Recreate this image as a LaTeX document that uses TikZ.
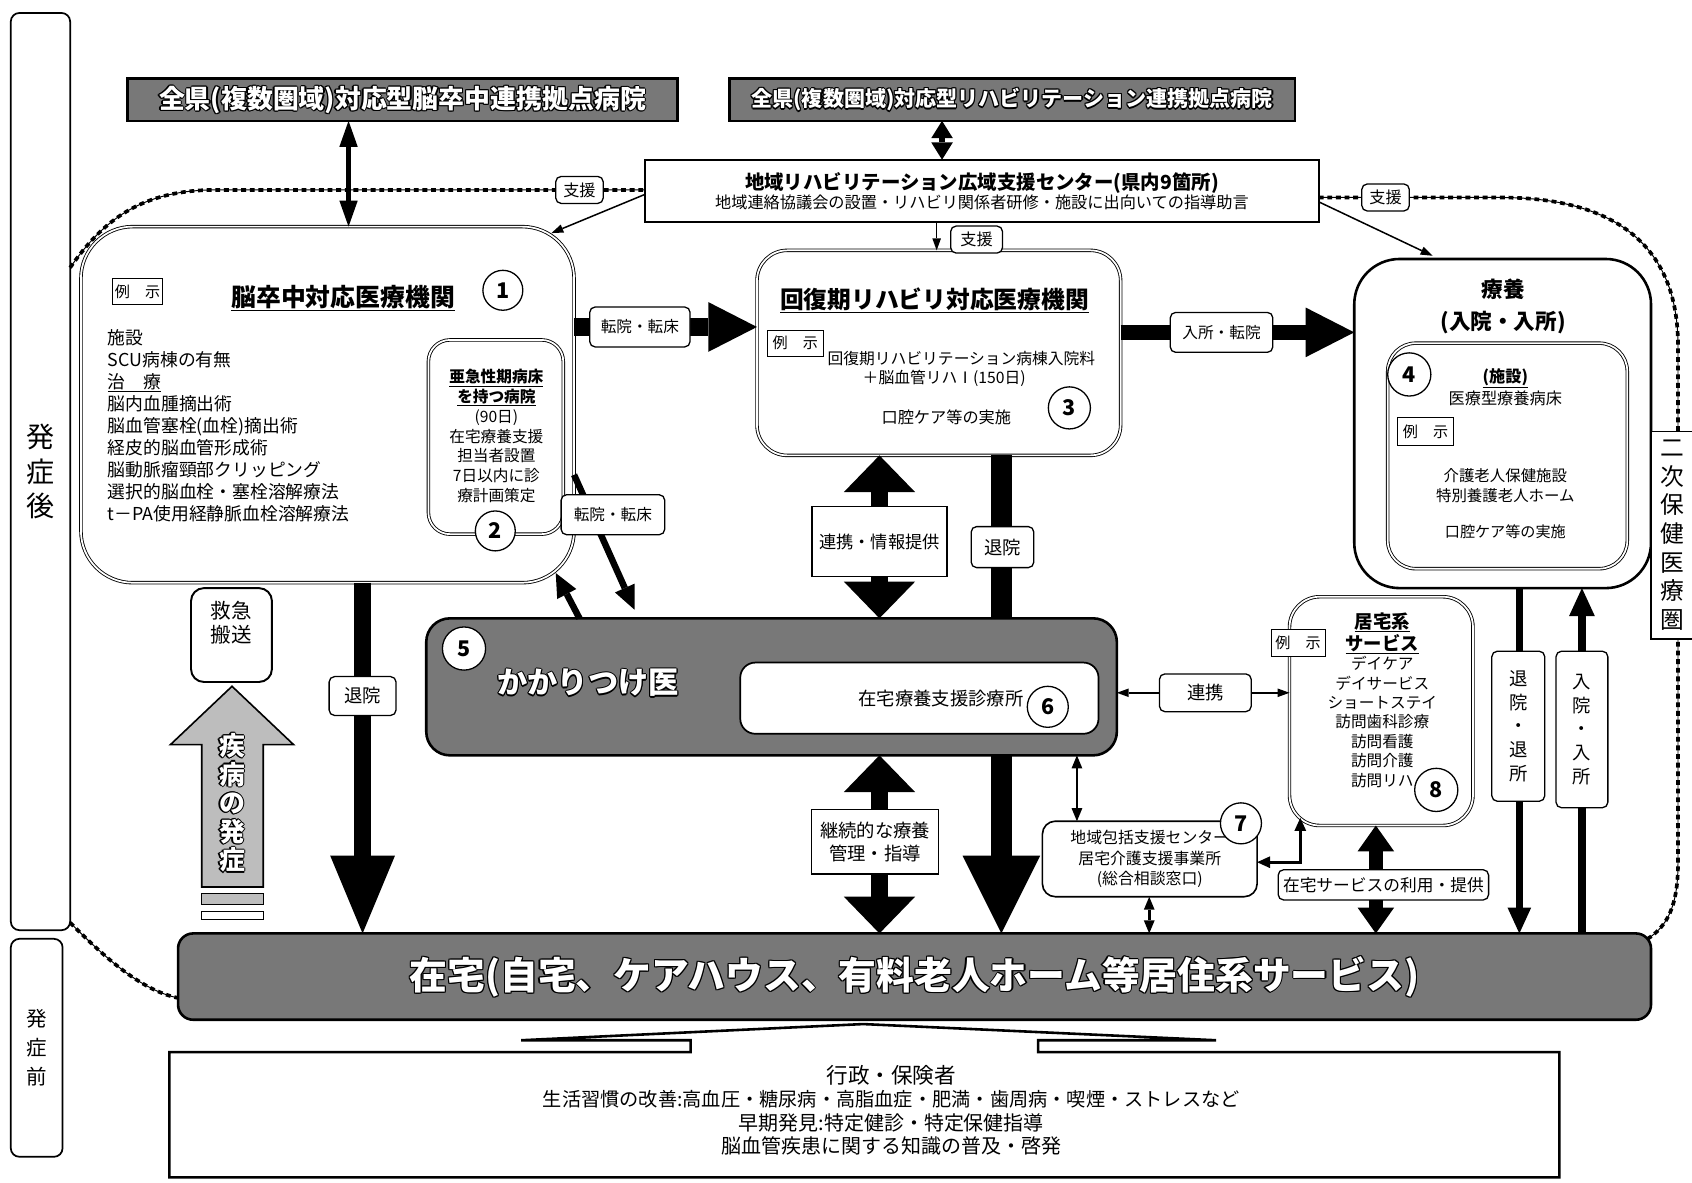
\documentclass[tikz,border=0pt]{standalone}
\usepackage{fontspec}
\setmainfont{Noto Sans CJK JP}
\usetikzlibrary{arrows.meta,calc}
\definecolor{grain}{gray}{0.47}
\definecolor{grainl}{gray}{0.74}
\newcommand\fsz[2]{\fontsize{#1}{#2}\selectfont}
\newcommand\outl[1]{{\setbox0\hbox{#1}%
\rlap{\kern1.1pt\copy0}\rlap{\kern-1.1pt\copy0}%
\rlap{\raise1.1pt\copy0}\rlap{\lower1.1pt\copy0}%
\rlap{\kern.8pt\raise.8pt\copy0}\rlap{\kern-.8pt\raise.8pt\copy0}%
\rlap{\kern.8pt\lower.8pt\copy0}\rlap{\kern-.8pt\lower.8pt\copy0}%
{\color{white}\box0}}}
\begin{document}
\begin{tikzpicture}[x=1pt,y=-1pt,
 every node/.style={inner sep=0pt, outer sep=0pt},
 dbl/.style={draw, double, double distance=1.6pt, line width=0.8pt, fill=white},
 sbox/.style={draw, line width=1.6pt, fill=white},
 gbox/.style={draw, line width=2.4pt, fill=grain},
 lbl/.style={draw, fill=white, line width=1.2pt, rounded corners=5pt, font=\fsz{15}{18}},
 rlbl/.style={draw, fill=white, line width=1.2pt, align=center},
 num/.style={circle, draw, fill=white, line width=1.2pt, minimum size=37pt, font=\bfseries\fsz{20}{20}},
 reiji/.style={draw, fill=white, line width=1.1pt, minimum width=46pt, minimum height=24pt, font=\fsz{14}{14}},
 vtxt/.style={align=center},
 bound/.style={line width=0.9pt, postaction={draw, line width=3.4pt, dash pattern=on 4.5pt off 3.5pt}}
]
\fill[white] (0,0) rectangle (1568,1096);
\useasboundingbox (0,0) rectangle (1568,1096);

% dashed boundary of the area
\draw[bound] (65,248) .. controls (95,205) and (130,176) .. (200,176) -- (598,176);
\draw[bound] (1222,183) -- (1390,183) .. controls (1500,183) and (1555,230) .. (1555,320) -- (1555,800) .. controls (1555,840) and (1545,858) .. (1527,870);
\draw[bound] (65,855) .. controls (95,885) and (130,918) .. (166,925);

% left phase boxes
\node[draw, line width=1.6pt, rounded corners=8pt, minimum width=55pt, minimum height=850pt, vtxt, font=\fsz{26}{32}] (hgo) at (37.5,437) {発\\症\\後};
\node[draw, line width=1.6pt, rounded corners=8pt, minimum width=48pt, minimum height=202pt, vtxt, font=\fsz{19}{27}] (hmae) at (34,971) {発\\症\\前};

% main boxes
\node[dbl, rounded corners=48pt, minimum width=457pt, minimum height=330pt] (boxA) at (303.5,375) {};
\node[dbl, rounded corners=20pt, minimum width=125pt, minimum height=180pt] (boxA2) at (459.5,405) {};
\node[dbl, rounded corners=28pt, minimum width=337pt, minimum height=190pt] (boxB) at (870,327) {};
\node[draw, line width=2.4pt, fill=white, rounded corners=42pt, minimum width=275pt, minimum height=305pt] (boxC) at (1392.5,392.5) {};
\node[dbl, rounded corners=26pt, minimum width=222pt, minimum height=209pt] (boxC4) at (1397,422.5) {};
\node[draw, line width=1.8pt, fill=white, minimum width=624pt, minimum height=58pt, align=center] (ctr) at (910,177) {{\bfseries\fsz{18}{23}地域リハビリテーション広域支援センター(県内9箇所)}\\{\fsz{15}{20}地域連絡協議会の設置・リハビリ関係者研修・施設に出向いての指導助言}};
\node[gbox, minimum width=510pt, minimum height=39pt, font=\bfseries\fsz{24}{26}] (topL) at (373,92.5) {\outl{全県(複数圏域)対応型脳卒中連携拠点病院}};
\node[gbox, minimum width=524pt, minimum height=39pt, font=\bfseries\fsz{19.5}{22}] (topR) at (938,92.5) {\outl{全県(複数圏域)対応型リハビリテーション連携拠点病院}};
\node[draw, line width=1.4pt, fill=white, minimum width=40pt, minimum height=192pt, vtxt, font=\fsz{22}{26.5}] (niji) at (1550,496) {二\\次\\保\\健\\医\\療\\圏};
\node[dbl, rounded corners=28pt, minimum width=170pt, minimum height=212pt] (kyotaku) at (1280,659) {};
\node[draw, line width=1.5pt, fill=white, rounded corners=12pt, minimum width=199pt, minimum height=70pt, align=center, font=\fsz{14.7}{19}] (houkatsu) at (1065.5,796) {地域包括支援センター\\居宅介護支援事業所\\(総合相談窓口)};
\node[draw, line width=1.8pt, fill=white, rounded corners=12pt, minimum width=75pt, minimum height=87pt] (kyukyu) at (214.5,588.5) {};
\node[align=center, font=\fsz{19}{23}] (kyukyut) at (214.5,577) {救急\\搬送};
\node[gbox, rounded corners=14pt, minimum width=1365pt, minimum height=80pt, font=\bfseries\fsz{35}{38}] (bar) at (847.5,905) {\outl{在宅(自宅、ケアハウス、有料老人ホーム等居住系サービス)}};

% onset arrow
\draw[line width=1.5pt, fill=grainl, line join=miter] (215,636) -- (272,690) -- (244,690) -- (244,822) -- (187,822) -- (187,690) -- (158,690) -- cycle;
\node[align=center, font=\bfseries\fsz{24}{26.5}] (sick) at (215,744) {\outl{疾}\\\outl{病}\\\outl{の}\\\outl{発}\\\outl{症}};
\draw[line width=1.2pt, fill=grainl] (187,828) rectangle (244,838);
\draw[line width=1.2pt] (187,845) rectangle (244,852);

% bottom box with upward arrow
\draw[line width=2.4pt, line join=miter] (157,975) -- (640,975) -- (640,964) -- (483,964) -- (800,949) -- (1127,964) -- (962,964) -- (962,975) -- (1445,975) -- (1445,1091) -- (157,1091) -- cycle;
\node[align=center, font=\fsz{18}{21.7}] (gyosei) at (826,1029) {{\fontsize{20}{21.7}\selectfont 行政・保険者}\\{\fontsize{17.8}{21.7}\selectfont 生活習慣の改善:高血圧・糖尿病・高脂血症・肥満・歯周病・喫煙・ストレスなど}\\{\fontsize{18.5}{21.7}\selectfont 早期発見:特定健診・特定保健指導}\\{\fontsize{18.5}{21.7}\selectfont 脳血管疾患に関する知識の普及・啓発}};

% discharge arrow behind kakaritsuke box
\draw[line width=20pt, -{Triangle[length=72pt,width=72pt,line width=0pt]}] (boxB.south -| 928,0) -- (bar.north -| 928,0);

% kakaritsuke
\node[gbox, rounded corners=22pt, minimum width=640pt, minimum height=127pt] (kakari) at (715,636.5) {};
\node[font=\bfseries\fsz{28}{30}] (kakarit) at (545,633) {\outl{かかりつけ医}};
\node[sbox, rounded corners=14pt, minimum width=332pt, minimum height=66pt] (shinryo) at (852,647) {};
\node[font=\fsz{17}{20}] (shinryot) at (872,647) {在宅療養支援診療所};

% connectors
\draw[line width=4pt, {Triangle[length=24pt,width=17pt,line width=0pt]}-{Triangle[length=24pt,width=17pt,line width=0pt]}] (topL.south -| 323,0) -- (boxA.north -| 323,0);
\draw[line width=5pt, {Triangle[length=16pt,width=20pt,line width=0pt]}-{Triangle[length=16pt,width=20pt,line width=0pt]}] (topR.south -| 873,0) -- (ctr.north -| 873,0);
\draw[line width=1.4pt, -{Triangle[length=11pt,width=8pt,line width=0pt]}] (ctr.west |- 0,180) -- ($(boxA.north east)+(-21,6)$);
\draw[line width=1.4pt, -{Triangle[length=11pt,width=8pt,line width=0pt]}] (ctr.east |- 0,187) -- ($(boxC.north)+(-65,-3)$);
\draw[line width=1.4pt, -{Triangle[length=11pt,width=8pt,line width=0pt]}] (ctr.south -| 868,0) -- (boxB.north -| 868,0);

\draw[line width=16pt, -{Triangle[length=45pt,width=46pt,line width=0pt]}] (boxA.east |- 0,303) -- (boxB.west |- 0,303);
\draw[line width=14pt, -{Triangle[length=45pt,width=46pt,line width=0pt]}] (boxB.east |- 0,308) -- (boxC.west |- 0,308);
\draw[line width=6pt, -{Triangle[length=22pt,width=20pt,line width=0pt]}] (boxA.east |- 0,440) -- ($(kakari.north west)+(193,-8)$);
\draw[line width=6pt, -{Triangle[length=22pt,width=20pt,line width=0pt]}] ($(kakari.north west)+(142,0)$) -- ($(boxA.south east)+(-17,-9)$);

\draw[line width=16pt, {Triangle[length=34pt,width=66pt,line width=0pt]}-{Triangle[length=34pt,width=66pt,line width=0pt]}] (boxB.south -| 815,0) -- (kakari.north -| 815,0);
\draw[line width=16pt, {Triangle[length=34pt,width=66pt,line width=0pt]}-{Triangle[length=34pt,width=66pt,line width=0pt]}] (kakari.south -| 815,0) -- (bar.north -| 815,0);
\draw[line width=16pt, -{Triangle[length=72pt,width=60pt,line width=0pt]}] (boxA.south -| 336,0) -- (bar.north -| 336,0);
\draw[line width=13pt, {Triangle[length=24pt,width=34pt,line width=0pt]}-{Triangle[length=24pt,width=34pt,line width=0pt]}] (kyotaku.south -| 1275,0) -- (bar.north -| 1275,0);
\draw[line width=7pt, -{Triangle[length=24pt,width=22pt,line width=0pt]}] (boxC.south -| 1408,0) -- (bar.north -| 1408,0);
\draw[line width=7pt, -{Triangle[length=26pt,width=24pt,line width=0pt]}] (bar.north -| 1466,0) -- (boxC.south -| 1466,0);

\draw[line width=1.5pt, {Triangle[length=11pt,width=8pt,line width=0pt]}-{Triangle[length=11pt,width=8pt,line width=0pt]}] (kakari.east |- 0,642) -- (kyotaku.west |- 0,642);
\draw[line width=2.5pt, {Triangle[length=12pt,width=10pt,line width=0pt]}-{Triangle[length=12pt,width=10pt,line width=0pt]}] (kakari.south -| 998,0) -- (houkatsu.north -| 998,0);
\draw[line width=2.5pt, {Triangle[length=12pt,width=10pt,line width=0pt]}-{Triangle[length=12pt,width=10pt,line width=0pt]}] (houkatsu.south -| 1065,0) -- (bar.north -| 1065,0);
\draw[line width=3pt, {Triangle[length=12pt,width=11pt,line width=0pt]}-{Triangle[length=12pt,width=11pt,line width=0pt]}] (houkatsu.east |- 0,799) -| ($(kyotaku.south west)+(10,-7)$);

% labels on connectors
\node[lbl, minimum width=44pt, minimum height=25pt] (sienL) at (537,176) {支援};
\node[lbl, minimum width=44pt, minimum height=25pt] (sienR) at (1284,183) {支援};
\node[lbl, minimum width=48pt, minimum height=25pt] (sienM) at (905,222) {支援};
\node[lbl, minimum width=93pt, minimum height=37pt, font=\fsz{14.5}{16}] (tenin1) at (593,303) {転院・転床};
\node[lbl, minimum width=95pt, minimum height=37pt, font=\fsz{14.5}{16}] (nyusho) at (1132,308) {入所・転院};
\node[lbl, minimum width=96pt, minimum height=37pt, font=\fsz{14.5}{16}] (tenin2) at (568,477) {転院・転床};
\node[rlbl, minimum width=125pt, minimum height=65pt, font=\fsz{16}{20}] (renkei1) at (815,502) {連携・情報提供};
\node[lbl, minimum width=58pt, minimum height=38pt, font=\fsz{17}{20}] (taiinM) at (929,507) {退院};
\node[rlbl, minimum width=118pt, minimum height=60pt, font=\fsz{17}{21}] (keizoku) at (811,780) {継続的な療養\\管理・指導};
\node[lbl, minimum width=85pt, minimum height=35pt, font=\fsz{17}{20}] (renkei2) at (1117,642) {連携};
\node[lbl, minimum width=62pt, minimum height=36pt, font=\fsz{17}{20}] (taiinL) at (336,645) {退院};
\node[lbl, minimum width=195pt, minimum height=28pt, font=\fsz{15.5}{18}] (zsvc) at (1282,820) {在宅サービスの利用・提供};
\node[lbl, minimum width=49pt, minimum height=139pt, align=center, font=\fsz{17}{22}] (taisho) at (1407,673) {退\\院\\・\\退\\所};
\node[lbl, minimum width=48pt, minimum height=145pt, align=center, font=\fsz{17}{22}] (nyuin) at (1466,676) {入\\院\\・\\入\\所};

% contents of box 1
\node[reiji] (rA) at (127.5,270) {例　示};
\node[font=\bfseries\fsz{23}{26}] (tA) at (318,276) {\underline{脳卒中対応医療機関}};
\node[num] (n1) at (466,269) {1};
\node[anchor=north west, align=left, font=\fsz{16.5}{20.4}] (lA) at (100,305) {施設\\SCU病棟の有無\\\underline{治　療}\\脳内血腫摘出術\\脳血管塞栓(血栓)摘出術\\経皮的脳血管形成術\\脳動脈瘤頸部クリッピング\\選択的脳血栓・塞栓溶解療法\\t－PA使用経静脈血栓溶解療法};
\node[align=center, font=\fsz{14.5}{18.3}] (tA2) at (460,404) {{\bfseries\underline{亜急性期病床}}\\{\bfseries\underline{を持つ病院}}\\(90日)\\在宅療養支援\\担当者設置\\7日以内に診\\療計画策定};
\node[num] (n2) at (459,492) {2};

% contents of box 3
\node[font=\bfseries\fsz{22}{24}] (tB) at (866,278) {\underline{回復期リハビリ対応医療機関}};
\node[reiji, minimum width=52pt] (rB) at (737,318) {例　示};
\node[font=\fsz{14.6}{17}] (tB1) at (891,332) {回復期リハビリテーション病棟入院料};
\node[font=\fsz{14.6}{17}] (tB2) at (875,351) {＋脳血管リハⅠ(150日)};
\node[font=\fsz{15}{17}] (tB3) at (877,387) {口腔ケア等の実施};
\node[num, minimum size=39pt] (n3) at (991,378) {3};

% contents of box 4
\node[align=center, font=\bfseries\fsz{20}{29}] (tC) at (1393,284) {療養\\(入院・入所)};
\node[num, minimum size=40pt] (n4) at (1306,347) {4};
\node[align=center, font=\fsz{15}{20}] (tC1) at (1395,359) {\underline{\bfseries (施設)}\\医療型療養病床};
\node[reiji, minimum width=52pt, minimum height=26pt] (rC) at (1321,400) {例　示};
\node[align=center, font=\fsz{14.3}{18}] (tC2) at (1395,450) {介護老人保健施設\\特別養護老人ホーム};
\node[font=\fsz{14}{17}] (tC3) at (1395,493) {口腔ケア等の実施};

% circles 5-8 and box 8 contents
\node[num, minimum size=40pt] (n5) at (430,601) {5};
\node[num, minimum size=38pt] (n6) at (971,655) {6};
\node[num, minimum size=38pt] (n7) at (1150,763) {7};
\node[align=center, font=\bfseries\fsz{17}{21}] (tK1) at (1281,587) {\underline{居宅系}\\\underline{サービス}};
\node[align=center, font=\fsz{14.5}{18}] (tK2) at (1281,669) {デイケア\\デイサービス\\ショートステイ\\訪問歯科診療\\訪問看護\\訪問介護\\訪問リハ};
\node[reiji, minimum width=50pt, minimum height=25pt] (rK) at (1203,596) {例　示};
\node[num, minimum size=40pt] (n8) at (1331,732) {8};
\end{tikzpicture}
\end{document}
